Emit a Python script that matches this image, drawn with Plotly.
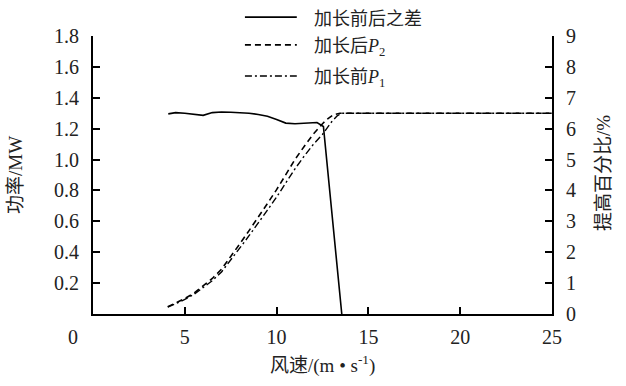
import plotly.graph_objects as go

# ---- data ----
diff_x = [4.1, 4.5, 5.0, 5.5, 6.0, 6.5, 7.0, 7.5, 8.0, 8.5, 9.0, 9.5, 10.0, 10.5, 11.0, 11.5, 12.0, 12.2, 12.55, 13.55]
diff_pct = [6.48, 6.52, 6.50, 6.47, 6.43, 6.52, 6.54, 6.53, 6.52, 6.50, 6.46, 6.40, 6.30, 6.18, 6.16, 6.17, 6.19, 6.20, 6.07, 0.0]

p2_x = [4.07, 4.5, 5.0, 5.5, 6.0, 6.5, 7.0, 7.5, 8.0, 8.5, 9.0, 9.5, 10.0, 10.5, 11.0, 11.5, 12.0, 12.5, 12.8, 13.1, 13.45, 25.0]
p2_y = [0.047, 0.07, 0.10, 0.135, 0.18, 0.23, 0.29, 0.37, 0.455, 0.54, 0.625, 0.715, 0.805, 0.905, 1.0, 1.085, 1.165, 1.232, 1.265, 1.29, 1.30, 1.30]

p1_x = [4.07, 4.5, 5.0, 5.5, 6.0, 6.5, 7.0, 7.5, 8.0, 8.5, 9.0, 9.5, 10.0, 10.5, 11.0, 11.5, 12.0, 12.5, 13.0, 13.3, 13.55, 25.0]
p1_y = [0.044, 0.066, 0.094, 0.127, 0.169, 0.216, 0.272, 0.347, 0.428, 0.507, 0.587, 0.672, 0.757, 0.852, 0.94, 1.022, 1.098, 1.163, 1.245, 1.283, 1.30, 1.30]

names = ["加长前后之差", "加长后<i>P</i><sub>2</sub>", "加长前<i>P</i><sub>1</sub>"]
dashes = ["solid", "6px,4px", "7px,3px,2px,3px"]

x_ticks = [5, 10, 15, 20, 25]
y_ticks = [0.2, 0.4, 0.6, 0.8, 1.0, 1.2, 1.4, 1.6, 1.8]
y_ticklabels = ["0.2", "0.4", "0.6", "0.8", "1.0", "1.2", "1.4", "1.6", "1.8"]
y2_ticks = [0, 1, 2, 3, 4, 5, 6, 7, 8, 9]

FONT = "Liberation Serif, Noto Sans CJK SC"
fig = go.Figure()
fig.add_trace(go.Scatter(x=diff_x, y=diff_pct, mode="lines", yaxis="y2", name=names[0],
                         line=dict(color="black", width=1.6, dash=dashes[0]), showlegend=False))
fig.add_trace(go.Scatter(x=p2_x, y=p2_y, mode="lines", name=names[1],
                         line=dict(color="black", width=1.6, dash=dashes[1]), showlegend=False))
fig.add_trace(go.Scatter(x=p1_x, y=p1_y, mode="lines", name=names[2],
                         line=dict(color="black", width=1.4, dash=dashes[2]), showlegend=False))

# manual legend
leg_y = [1.068, 0.968, 0.856]
for nm, ds, yy in zip(names, dashes, leg_y):
    fig.add_shape(type="line", xref="paper", yref="paper", x0=0.331, x1=0.444, y0=yy, y1=yy,
                  line=dict(color="black", width=1.6, dash=ds))
    fig.add_annotation(xref="paper", yref="paper", x=0.477, y=yy - 0.008, text=nm, showarrow=False,
                       xanchor="left", yanchor="middle", font=dict(size=18, color="#222", family=FONT))

axis_common = dict(showgrid=False, zeroline=False, showline=True, linecolor="black", linewidth=2,
                   ticks="inside", ticklen=7, tickwidth=1.5, tickcolor="black",
                   tickfont=dict(size=20, color="#222", family=FONT))

fig.update_layout(
    width=626, height=386,
    margin=dict(l=93, r=74, t=36, b=72),
    paper_bgcolor="white", plot_bgcolor="white",
    xaxis=dict(range=[0, 25], tickvals=x_ticks, ticklabelstandoff=4, **axis_common),
    yaxis=dict(range=[0, 1.8], tickvals=y_ticks, ticktext=y_ticklabels, ticklabelstandoff=8, **axis_common),
    yaxis2=dict(range=[0, 9], tickvals=y2_ticks, overlaying="y", side="right", ticklabelstandoff=8, **axis_common),
)

fig.add_annotation(xref="paper", yref="paper", x=-0.0436, y=-0.083, text="0", showarrow=False,
                   xanchor="center", yanchor="middle", font=dict(size=20, color="#222", family=FONT))
fig.add_annotation(xref="paper", yref="paper", x=0.499, y=-0.183, text="风速/(m • s<sup>-1</sup>)", showarrow=False,
                   xanchor="center", yanchor="middle", font=dict(size=19, color="#222", family=FONT))
fig.add_annotation(xref="paper", yref="paper", x=-0.170, y=0.5, text="功率/MW", showarrow=False, textangle=-90,
                   xanchor="center", yanchor="middle", font=dict(size=19, color="#222", family=FONT))
fig.add_annotation(xref="paper", yref="paper", x=1.111, y=0.507, text="提高百分比/%", showarrow=False, textangle=-90,
                   xanchor="center", yanchor="middle", font=dict(size=19, color="#222", family=FONT))

fig.write_html("out.html", config={"displayModeBar": False},
               post_script="document.body.style.margin='0';document.body.style.overflow='hidden';")
